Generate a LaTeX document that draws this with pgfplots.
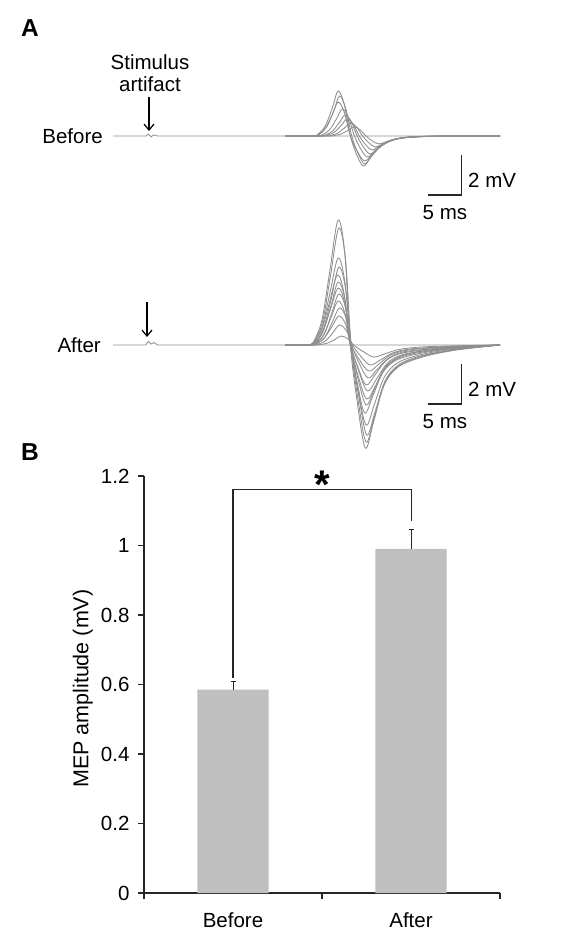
\documentclass[border=0pt]{standalone}
\usepackage{pgfplots}
\pgfplotsset{compat=1.18}
\usepackage{fontspec}
\setmainfont{Liberation Sans}
\usetikzlibrary{arrows.meta}
\definecolor{traceGray}{HTML}{8E8E8E}
\definecolor{barGray}{HTML}{BFBFBF}
\definecolor{inkDark}{HTML}{262626}

\begin{document}
\begin{tikzpicture}[x=1pt,y=1pt,font=\fontsize{20.5}{24}\selectfont]
\useasboundingbox (0,0) rectangle (580,-932);

% panel labels
\node[font=\fontsize{24.5}{26}\selectfont\bfseries] at (30,-28) {A};
\node[font=\fontsize{24.5}{26}\selectfont\bfseries] at (30,-452) {B};

% ---------- A: before ----------
\begin{axis}[at={(113pt,-176pt)}, anchor=south west, scale only axis,
    width=387pt, height=90pt, xmin=-5.3, xmax=51.6, ymin=-2, ymax=2.5,
    hide axis, clip=false,
    every axis plot/.append style={traceGray, line width=0.85pt}]
  \addplot[sharp plot] coordinates {(-5.3,0) (-0.4,0) (-0.1,0.1) (0.3,-0.04) (0.7,0.06) (1.2,0) (51.6,0)};
  \addplot[smooth, tension=0.55] coordinates {(20,0) (24,0) (25,0.14) (26,0.56) (27,1.46) (27.8,2.25) (28.7,1.58) (29.6,0) (30.5,-0.9) (31.5,-1.5) (32.6,-1.05) (34,-0.53) (36,-0.18) (39,-0.05) (45,0) (51.6,0)};
  \addplot[smooth, tension=0.55] coordinates {(20,0) (24.2,0) (25.2,0.12) (26.2,0.5) (27.2,1.3) (28,2.0) (28.9,1.4) (29.8,0) (30.7,-0.84) (31.7,-1.4) (32.8,-0.98) (34.2,-0.49) (36.2,-0.17) (39.2,-0.04) (45,0) (51.6,0)};
  \addplot[smooth, tension=0.55] coordinates {(20,0) (24,0) (25,0.1) (26,0.43) (27,1.11) (27.8,1.7) (28.7,1.19) (29.6,0) (30.6,-0.75) (31.7,-1.25) (32.9,-0.88) (34.4,-0.44) (36.4,-0.15) (39.4,-0.04) (45,0) (51.6,0)};
  \addplot[smooth, tension=0.55] coordinates {(20,0) (24.6,0) (25.6,0.08) (26.6,0.34) (27.6,0.88) (28.4,1.35) (29.3,0.95) (30.2,0) (31.1,-0.63) (32.1,-1.05) (33.2,-0.74) (34.6,-0.37) (36.6,-0.13) (39.6,-0.03) (45,0) (51.6,0)};
  \addplot[smooth, tension=0.55] coordinates {(20,0) (25,0) (26,0.06) (27,0.26) (28,0.68) (28.8,1.05) (29.7,0.74) (30.6,0) (31.5,-0.54) (32.5,-0.9) (33.6,-0.63) (35,-0.32) (37,-0.11) (40,-0.03) (45,0) (51.6,0)};
  \addplot[smooth, tension=0.55] coordinates {(20,0) (25.3,0) (26.3,0.05) (27.3,0.21) (28.3,0.55) (29.1,0.85) (30,0.6) (30.9,0) (31.8,-0.42) (32.8,-0.7) (33.9,-0.49) (35.3,-0.25) (37.3,-0.08) (40.3,-0.02) (45,0) (51.6,0)};
  \addplot[smooth, tension=0.55] coordinates {(20,0) (25.8,0) (26.8,0.04) (27.8,0.16) (28.8,0.42) (29.6,0.65) (30.5,0.46) (31.4,0) (32.3,-0.33) (33.3,-0.55) (34.4,-0.39) (35.8,-0.19) (37.8,-0.07) (40.8,-0.02) (45,0) (51.6,0)};
  \addplot[smooth, tension=0.55] coordinates {(20,0) (26.3,0) (27.3,0.03) (28.3,0.11) (29.3,0.29) (30.1,0.45) (31,0.32) (31.9,0) (32.8,-0.24) (33.8,-0.4) (34.9,-0.28) (36.3,-0.14) (38.3,-0.05) (41.3,-0.01) (45,0) (51.6,0)};
  % scale bar
  \draw[inkDark, line width=1.1pt] (axis cs:46,-0.95) -- (axis cs:46,-2.95) -- (axis cs:41,-2.95);
  \node[anchor=west, inner sep=0pt, black] at (axis cs:46.9,-2.2) {2 mV};
  \node[anchor=north, inner sep=0pt, black] at (axis cs:43.5,-3.45) {5 ms};
\end{axis}
\node[anchor=east, inner sep=0pt] at (103,-136) {Before};
\node[inner sep=0pt] at (150,-62) {Stimulus};
\node[inner sep=0pt] at (150,-84) {artifact};
\draw[black, line width=1.2pt, -{Straight Barb[length=6pt,width=10pt]}] (149,-97) -- (149,-131);

% ---------- A: after ----------
\begin{axis}[at={(113pt,-455pt)}, anchor=south west, scale only axis,
    width=387pt, height=240pt, xmin=-5.3, xmax=51.6, ymin=-5.5, ymax=6.5,
    hide axis, clip=false,
    every axis plot/.append style={traceGray, line width=0.85pt}]
  \addplot[sharp plot] coordinates {(-5.3,0) (-0.5,0) (-0.1,0.18) (0.3,0.05) (0.7,0.12) (1.3,0) (51.6,0)};
  \addplot[smooth, tension=0.55] coordinates {(20,0) (23.5,0) (24.5,0.38) (25.5,1.38) (26.6,3.75) (27.8,6.25) (28.8,4.5) (29.6,0) (30.6,-2.83) (31.8,-5.15) (33,-3.86) (34.5,-2.06) (36.5,-1.13) (40,-0.62) (45,-0.26) (51.6,0)};
  \addplot[smooth, tension=0.55] coordinates {(20,0) (23.6,0) (24.6,0.35) (25.6,1.29) (26.7,3.51) (27.9,5.85) (28.9,4.21) (29.7,0) (30.7,-2.67) (31.9,-4.85) (33.1,-3.64) (34.6,-1.94) (36.6,-1.07) (40,-0.58) (45,-0.24) (51.6,0)};
  \addplot[smooth, tension=0.55] coordinates {(20,0) (23.5,0) (24.5,0.26) (25.5,0.96) (26.6,2.61) (27.8,4.35) (28.8,3.13) (29.7,0) (30.8,-2.48) (32,-4.5) (33.2,-3.38) (34.7,-1.8) (36.7,-0.99) (40,-0.54) (45,-0.23) (51.6,0)};
  \addplot[smooth, tension=0.55] coordinates {(20,0) (23.7,0) (24.7,0.23) (25.7,0.86) (26.8,2.34) (27.9,3.9) (28.9,2.81) (29.7,0) (30.7,-2.2) (31.9,-4.0) (33.1,-3.0) (34.6,-1.6) (36.6,-0.88) (40,-0.48) (45,-0.2) (51.6,0)};
  \addplot[smooth, tension=0.55] coordinates {(20,0) (23.4,0) (24.4,0.21) (25.4,0.77) (26.5,2.1) (27.7,3.5) (28.7,2.52) (29.6,0) (30.6,-1.87) (31.7,-3.4) (32.9,-2.55) (34.4,-1.36) (36.4,-0.75) (40,-0.41) (45,-0.17) (51.6,0)};
  \addplot[smooth, tension=0.55] coordinates {(20,0) (23.6,0) (24.6,0.19) (25.6,0.69) (26.7,1.89) (27.8,3.15) (28.8,2.27) (29.6,0) (30.7,-1.65) (31.9,-3.0) (33.1,-2.25) (34.6,-1.2) (36.6,-0.66) (40,-0.36) (45,-0.15) (51.6,0)};
  \addplot[smooth, tension=0.55] coordinates {(20,0) (23.5,0) (24.5,0.17) (25.5,0.63) (26.6,1.71) (27.8,2.85) (28.8,2.05) (29.6,0) (30.7,-1.49) (32,-2.7) (33.3,-2.03) (34.8,-1.08) (36.8,-0.59) (40,-0.32) (45,-0.14) (51.6,0)};
  \addplot[smooth, tension=0.55] coordinates {(20,0) (23.8,0) (24.8,0.15) (25.8,0.56) (26.8,1.53) (27.9,2.55) (28.9,1.84) (29.7,0) (30.8,-1.27) (32.1,-2.3) (33.4,-1.73) (35,-0.92) (37,-0.51) (40.5,-0.28) (45,-0.12) (51.6,0)};
  \addplot[smooth, tension=0.55] coordinates {(20,0) (23.6,0) (24.6,0.13) (25.6,0.48) (26.7,1.32) (27.8,2.2) (28.8,1.58) (29.6,0) (30.7,-1.1) (31.9,-2.0) (33.2,-1.5) (34.8,-0.8) (36.8,-0.44) (40.5,-0.24) (45,-0.1) (51.6,0)};
  \addplot[smooth, tension=0.55] coordinates {(20,0) (23.9,0) (24.9,0.11) (25.9,0.41) (26.9,1.11) (28,1.85) (29,1.33) (29.8,0) (30.9,-0.91) (32.2,-1.65) (33.5,-1.24) (35.2,-0.66) (37.2,-0.36) (41,-0.2) (46,-0.08) (51.6,0)};
  \addplot[smooth, tension=0.55] coordinates {(20,0) (23.7,0) (24.7,0.09) (25.7,0.32) (26.8,0.87) (27.9,1.45) (28.9,1.04) (29.7,0) (30.9,-0.72) (32.3,-1.3) (33.7,-0.98) (35.4,-0.52) (37.4,-0.29) (41,-0.16) (46,-0.07) (51.6,0)};
  \addplot[smooth, tension=0.55] coordinates {(20,0) (24,0) (25,0.06) (26,0.22) (27,0.6) (28,1.0) (29,0.72) (29.9,0) (31.1,-0.55) (32.5,-1.0) (34,-0.75) (35.8,-0.4) (38,-0.22) (41.5,-0.12) (46,-0.05) (51.6,0)};
  \addplot[smooth, tension=0.55] coordinates {(20,0) (24.3,0) (25.3,0.03) (26.3,0.1) (27.3,0.27) (28.2,0.45) (29.2,0.32) (30.1,0) (31.5,-0.33) (33,-0.6) (34.6,-0.45) (36.5,-0.24) (38.8,-0.13) (42,-0.07) (46.5,-0.03) (51.6,0)};
  % scale bar
  \draw[inkDark, line width=1.1pt] (axis cs:46,-0.95) -- (axis cs:46,-2.95) -- (axis cs:41,-2.95);
  \node[anchor=west, inner sep=0pt, black] at (axis cs:46.9,-2.2) {2 mV};
  \node[anchor=north, inner sep=0pt, black] at (axis cs:43.5,-3.45) {5 ms};
\end{axis}
\node[anchor=east, inner sep=0pt] at (101,-345) {After};
\draw[black, line width=1.2pt, -{Straight Barb[length=6pt,width=10pt]}] (147,-302) -- (147,-337);

% ---------- B: bar chart ----------
\begin{axis}[at={(144pt,-893pt)}, anchor=south west, scale only axis,
    width=356pt, height=417pt, xmin=0, xmax=2, ymin=0, ymax=1.2,
    axis x line=bottom, axis y line=left,
    axis line style={-, draw=inkDark, line width=1.1pt},
    tick style={draw=inkDark, line width=1.1pt},
    tick align=outside, major tick length=6pt,
    xtick={0,1,2}, xticklabels={},
    extra x ticks={0.5,1.5}, extra x tick labels={Before,After},
    extra x tick style={major tick length=0pt, tick label style={yshift=-16pt}},
    ytick={0,0.2,0.4,0.6,0.8,1,1.2},
    tick label style={font=\fontsize{20.5}{24}\selectfont},
    yticklabel style={xshift=-5pt},
    /pgf/number format/assume math mode=true,
    ylabel={MEP amplitude (mV)},
    ylabel style={at={(axis description cs:-0.172,0.49)}, anchor=center, font=\fontsize{21.5}{24}\selectfont},
    clip=false]
  \addplot[ybar, bar width=0.4, fill=barGray, draw=none,
      error bars/.cd, y dir=plus, y explicit,
      error bar style={draw=inkDark, line width=0.9pt},
      error mark options={draw=inkDark, rotate=90, mark size=2.5pt, line width=0.9pt}]
    coordinates {(0.5,0.585) +- (0,0.025) (1.5,0.99) +- (0,0.057)};
  % significance bracket
  \draw[inkDark, line width=1.1pt] (axis cs:0.5,0.62) -- (axis cs:0.5,1.16) -- (axis cs:1.505,1.16) -- (axis cs:1.505,1.07);
  \node[anchor=base, inner sep=0pt, font=\fontsize{40}{40}\selectfont\bfseries] at (axis cs:1,1.135) {*};
\end{axis}
\end{tikzpicture}
\end{document}
